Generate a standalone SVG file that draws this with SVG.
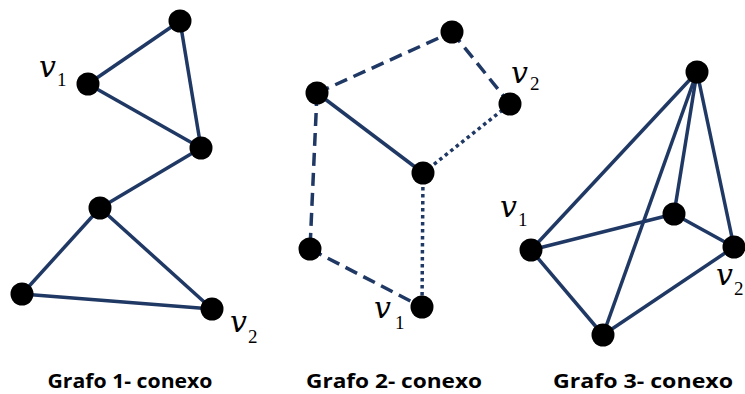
<svg xmlns="http://www.w3.org/2000/svg" width="745" height="394" viewBox="0 0 745 394">
<style>
.e{stroke:#1f3864;stroke-width:3.5;fill:none}
.d{stroke-dasharray:13 7}
.o{stroke-dasharray:3.5 3.5}
.n{fill:#000}
.v{font-family:"DejaVu Serif","Liberation Serif",serif;font-style:italic;font-size:30px;fill:#000}
.s{font-family:"Liberation Serif","DejaVu Serif",serif;font-size:19px;fill:#000}
.c{font-family:"Open Sans","Liberation Sans",sans-serif;font-weight:bold;font-size:19.5px;fill:#000;text-anchor:middle}
</style>
<rect width="745" height="394" fill="#fff"/>
<g id="connectors">
<line class="e" x1="180" y1="21" x2="88" y2="84"/>
<line class="e" x1="180" y1="21" x2="201" y2="148"/>
<line class="e" x1="88" y1="84" x2="201" y2="148"/>
<line class="e" x1="201" y1="148" x2="100" y2="208"/>
<line class="e" x1="100" y1="208" x2="22" y2="294"/>
<line class="e" x1="100" y1="208" x2="212" y2="309"/>
<line class="e" x1="22" y1="294" x2="212" y2="309"/>
<line class="e d" x1="317" y1="93" x2="452" y2="32"/>
<line class="e d" x1="452" y1="32" x2="510" y2="104"/>
<line class="e" x1="317" y1="93" x2="423" y2="173"/>
<line class="e o" x1="423" y1="173" x2="510" y2="104"/>
<line class="e d" x1="317" y1="93" x2="310" y2="249"/>
<line class="e d" x1="310" y1="249" x2="422" y2="307"/>
<line class="e o" x1="423" y1="173" x2="422" y2="307"/>
<line class="e" x1="697" y1="72" x2="531" y2="250"/>
<line class="e" x1="697" y1="72" x2="603" y2="335"/>
<line class="e" x1="697" y1="72" x2="674" y2="214"/>
<line class="e" x1="697" y1="72" x2="734" y2="247"/>
<line class="e" x1="531" y1="250" x2="674" y2="214"/>
<line class="e" x1="674" y1="214" x2="734" y2="247"/>
<line class="e" x1="531" y1="250" x2="603" y2="335"/>
<line class="e" x1="603" y1="335" x2="734" y2="247"/>
</g>
<g id="g1">
<g id="g1n1"><circle class="n" cx="180" cy="21" r="11.5"/></g>
<g id="g1n2"><circle class="n" cx="88" cy="84" r="11.5"/><text class="v" x="39" y="77">v</text><text class="s" x="57" y="86">1</text></g>
<g id="g1n3"><circle class="n" cx="201" cy="148" r="11.5"/></g>
<g id="g1n4"><circle class="n" cx="100" cy="208" r="11.5"/></g>
<g id="g1n5"><circle class="n" cx="22" cy="294" r="11.5"/></g>
<g id="g1n6"><circle class="n" cx="212" cy="309" r="11.5"/><text class="v" x="230" y="332">v</text><text class="s" x="248" y="343">2</text></g>
<text class="c" x="130" y="388" textLength="165" lengthAdjust="spacingAndGlyphs">Grafo 1- conexo</text>
</g>
<g id="g2">
<g id="g2n1"><circle class="n" cx="452" cy="32" r="11.5"/></g>
<g id="g2n2"><circle class="n" cx="317" cy="93" r="11.5"/></g>
<g id="g2n3"><circle class="n" cx="510" cy="104" r="11.5"/><text class="v" x="511" y="83">v</text><text class="s" x="530" y="90">2</text></g>
<g id="g2n4"><circle class="n" cx="423" cy="173" r="11.5"/></g>
<g id="g2n5"><circle class="n" cx="310" cy="249" r="11.5"/></g>
<g id="g2n6"><circle class="n" cx="422" cy="307" r="11.5"/><text class="v" x="374" y="318">v</text><text class="s" x="395" y="329">1</text></g>
<text class="c" x="394" y="388" textLength="176" lengthAdjust="spacingAndGlyphs">Grafo 2- conexo</text>
</g>
<g id="g3">
<g id="g3n1"><circle class="n" cx="697" cy="72" r="11.5"/></g>
<g id="g3n2"><circle class="n" cx="674" cy="214" r="11.5"/></g>
<g id="g3n3"><circle class="n" cx="531" cy="250" r="11.5"/><text class="v" x="500" y="217">v</text><text class="s" x="518" y="226">1</text></g>
<g id="g3n4"><circle class="n" cx="734" cy="247" r="11.5"/><text class="v" x="716" y="285">v</text><text class="s" x="734" y="295">2</text></g>
<g id="g3n5"><circle class="n" cx="603" cy="335" r="11.5"/></g>
<text class="c" x="643" y="388" textLength="180" lengthAdjust="spacingAndGlyphs">Grafo 3- conexo</text>
</g>
</svg>
